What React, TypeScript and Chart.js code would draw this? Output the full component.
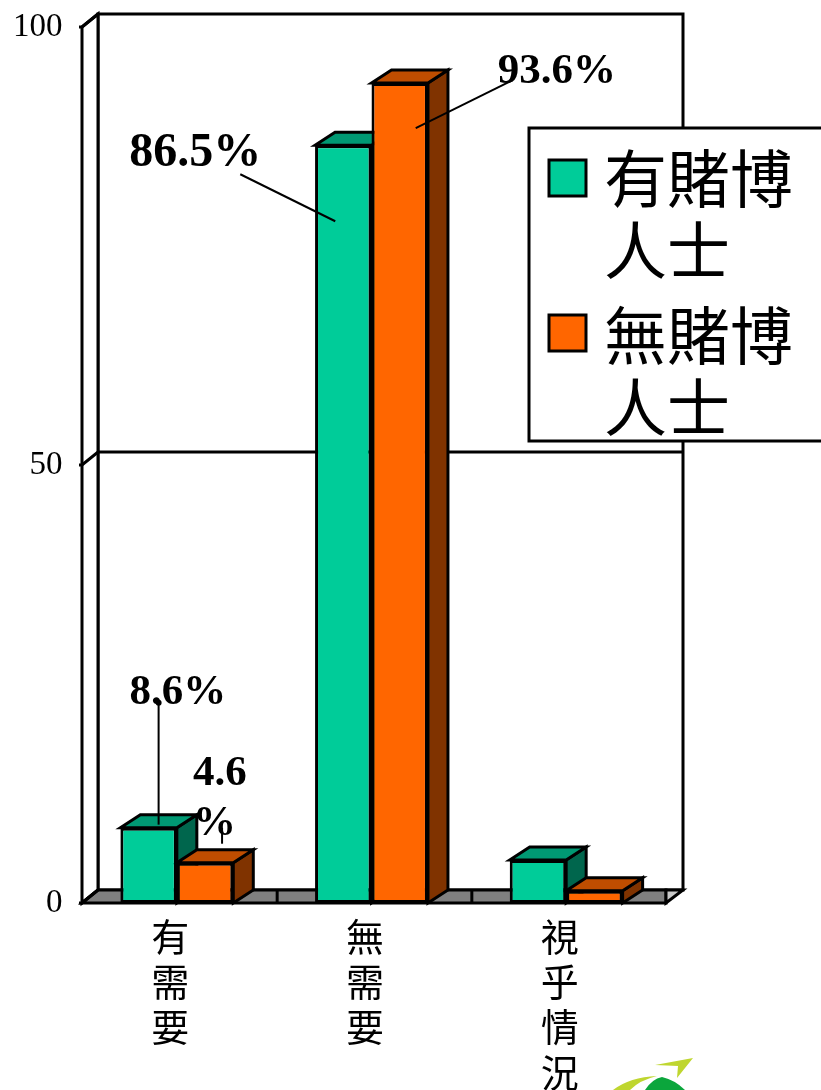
import React, { useEffect, useRef } from "react";
import { Chart, registerables } from "chart.js";

Chart.register(...registerables);

const categories = [["有", "需", "要"], ["無", "需", "要"], ["視", "乎", "情", "況"]];
const seriesNames = ["有賭博人士", "無賭博人士"];
const gamblers = [8.6, 86.5, 4.9];
const nonGamblers = [4.6, 93.6, 1.4];
const yTicks = [0, 50, 100];

const FRONT = ["#00CC99", "#FF6600"];
const SIDE = ["#00664D", "#803300"];
const TOP = ["#009973", "#BF4D00"];
const DX = 18;
const DY = 13;
const SERIF = '"Liberation Serif", "Times New Roman", serif';
const CJK = '"Noto Sans CJK TC", "Noto Sans", sans-serif';

const calloutStyle: any[] = [
  { d: 0, i: 0, size: 43, tx: -19, ty: -124, lines: ["8.6%"], lead: [10, -125, 10, -3], dot: true },
  { d: 1, i: 0, size: 43, tx: -12, ty: -78, lines: ["4.6", "%"], lead: [17, -35, 17, -19], dot: false },
  { d: 0, i: 1, size: 48, tx: -214, ty: 21, lines: ["86.5%"], lead: [-103, 29, -8, 76], dot: false },
  { d: 1, i: 1, size: 43, tx: 98, ty: 0, lines: ["93.6%"], lead: [113, -3, 16, 45], dot: false },
];

const chart3d = {
  id: "chart3d",
  beforeDatasetsDraw(chart: any) {
    const { ctx, chartArea: a, scales } = chart;
    const y = scales.y;
    const left = a.left + 2.5;
    const right = a.right + 2.5;
    const y0 = y.getPixelForValue(0);
    const yMax = y.getPixelForValue(100);
    ctx.save();
    ctx.lineJoin = "miter";
    ctx.lineCap = "butt";
    ctx.strokeStyle = "#000";
    ctx.lineWidth = 3;
    const poly = (pts: number[][], fill: string | null) => {
      ctx.beginPath();
      pts.forEach((p, k) => (k ? ctx.lineTo(p[0], p[1]) : ctx.moveTo(p[0], p[1])));
      ctx.closePath();
      if (fill) {
        ctx.fillStyle = fill;
        ctx.fill();
      }
      ctx.stroke();
    };
    poly([[left + DX - 2, yMax - DY], [right + DX - 1, yMax - DY], [right + DX - 1, y0 - DY], [left + DX - 2, y0 - DY]], "#fff");
    poly([[left, yMax], [left + DX - 2, yMax - DY], [left + DX - 2, y0 - DY], [left, y0]], "#fff");
    poly([[left, y0], [left + DX - 2, y0 - DY], [right, y0 - DY], [right, y0]], "#808080");
    poly([[right, y0], [right, y0 - DY], [right + DX - 1, y0 - DY]], "#C8C8C8");
    const band = (a.right - a.left) / categories.length;
    for (let k = 1; k < categories.length; k++) {
      const xs = a.left + band * k + 3;
      ctx.beginPath();
      ctx.moveTo(xs, y0);
      ctx.lineTo(xs, y0 - DY);
      ctx.stroke();
    }
    yTicks.forEach((v) => {
      const py = y.getPixelForValue(v);
      ctx.beginPath();
      ctx.moveTo(left - 3, py);
      ctx.lineTo(left, py);
      ctx.lineTo(left + DX - 2, py - DY);
      if (v > 0 && v < 100) ctx.lineTo(right + DX - 1, py - DY);
      ctx.stroke();
    });
    for (let i = 0; i < categories.length; i++) {
      for (let d = 0; d < chart.data.datasets.length; d++) {
        const el = chart.getDatasetMeta(d).data[i];
        const xl = el.x - el.width / 2;
        const xr = el.x + el.width / 2;
        const dx = DX + 2;
        poly([[xr, el.y], [xr + dx, el.y - DY], [xr + dx, el.base - DY], [xr, el.base]], SIDE[d]);
        poly([[xl, el.y], [xl + dx, el.y - DY], [xr + dx, el.y - DY], [xr, el.y]], TOP[d]);
      }
    }
    ctx.restore();
  },
  afterDatasetsDraw(chart: any) {
    const { ctx } = chart;
    ctx.save();
    ctx.strokeStyle = "#000";
    ctx.fillStyle = "#000";
    ctx.lineWidth = 2;
    ctx.textAlign = "left";
    ctx.textBaseline = "alphabetic";
    calloutStyle.forEach((c) => {
      const el = chart.getDatasetMeta(c.d).data[c.i];
      ctx.beginPath();
      ctx.moveTo(el.x + c.lead[0], el.y + c.lead[1]);
      ctx.lineTo(el.x + c.lead[2], el.y + c.lead[3]);
      ctx.stroke();
      ctx.font = `bold ${c.size}px ${SERIF}`;
      c.lines.forEach((t: string, k: number) => ctx.fillText(t, el.x + c.tx, el.y + c.ty + k * 50));
      if (c.dot) {
        ctx.beginPath();
        ctx.arc(el.x + c.lead[0], el.y + c.lead[1], 3, 0, Math.PI * 2);
        ctx.fill();
      }
    });
    ctx.restore();
  },
  afterDraw(chart: any) {
    const { ctx } = chart;
    ctx.save();
    ctx.fillStyle = "#fff";
    ctx.strokeStyle = "#000";
    ctx.lineWidth = 3;
    ctx.fillRect(529, 128, 300, 313);
    ctx.strokeRect(529, 128, 300, 313);
    const rows = [
      { sw: 160, l1: 178, l2: 250 },
      { sw: 315, l1: 335, l2: 407 },
    ];
    rows.forEach((r, k) => {
      ctx.fillStyle = FRONT[k];
      ctx.fillRect(549, r.sw, 37, 36);
      ctx.strokeRect(549, r.sw, 37, 36);
      ctx.fillStyle = "#000";
      ctx.font = `63px ${CJK}`;
      ctx.textAlign = "left";
      ctx.textBaseline = "middle";
      ctx.fillText(seriesNames[k].slice(0, 3), 604, r.l1);
      ctx.fillText(seriesNames[k].slice(3), 604, r.l2);
    });
    // logo fragment at the page's foot
    ctx.fillStyle = "#BFD62F";
    ctx.beginPath();
    ctx.moveTo(655, 1065);
    ctx.lineTo(693, 1058);
    ctx.lineTo(677, 1078);
    ctx.lineTo(678, 1066);
    ctx.closePath();
    ctx.fill();
    ctx.beginPath();
    ctx.moveTo(613, 1090);
    ctx.quadraticCurveTo(630, 1077, 657, 1076);
    ctx.quadraticCurveTo(640, 1080, 630, 1090);
    ctx.closePath();
    ctx.fill();
    ctx.fillStyle = "#0BA63C";
    ctx.beginPath();
    ctx.moveTo(645, 1090);
    ctx.quadraticCurveTo(652, 1079, 662, 1077);
    ctx.quadraticCurveTo(675, 1080, 685, 1090);
    ctx.closePath();
    ctx.fill();
    ctx.restore();
  },
};

export default function App() {
  const ref = useRef<HTMLCanvasElement>(null);
  useEffect(() => {
    const chart = new Chart(ref.current as HTMLCanvasElement, {
      type: "bar",
      data: {
        labels: categories as any,
        datasets: [
          { label: seriesNames[0], data: gamblers, backgroundColor: FRONT[0], borderColor: "#000", borderWidth: 3, borderSkipped: false },
          { label: seriesNames[1], data: nonGamblers, backgroundColor: FRONT[1], borderColor: "#000", borderWidth: 3, borderSkipped: false },
        ],
      },
      options: {
        responsive: false,
        animation: false,
        devicePixelRatio: 1,
        layout: { padding: { top: 27, right: 157.5, left: 0, bottom: 0 } },
        datasets: { bar: { categoryPercentage: 0.58, barPercentage: 1 } },
        plugins: { legend: { display: false }, tooltip: { enabled: false } },
        scales: {
          x: {
            grid: { display: false, drawTicks: false },
            border: { display: false },
            afterFit: (s: any) => { s.height = 187; s.paddingLeft = 0; s.paddingRight = 0; },
            ticks: {
              autoSkip: false,
              maxRotation: 0,
              minRotation: 0,
              padding: 11,
              labelOffset: -6.5,
              color: "#000",
              font: { family: CJK, size: 38, lineHeight: 1.19 },
            },
          },
          y: {
            min: 0,
            max: 100,
            grid: { display: false, drawTicks: false },
            border: { display: false },
            afterFit: (s: any) => { s.width = 79.5; s.paddingTop = 0; s.paddingBottom = 0; },
            afterBuildTicks: (s: any) => { s.ticks = yTicks.map((value) => ({ value })); },
            ticks: { padding: 17, color: "#000", font: { family: SERIF, size: 33 } },
          },
        },
      } as any,
      plugins: [chart3d],
    });
    return () => chart.destroy();
  }, []);
  return (
    <div style={{ position: "absolute", left: 0, top: 0, width: 821, height: 1090, overflow: "hidden", background: "#fff" }}>
      <canvas ref={ref} width={821} height={1090} style={{ display: "block" }} />
    </div>
  );
}
